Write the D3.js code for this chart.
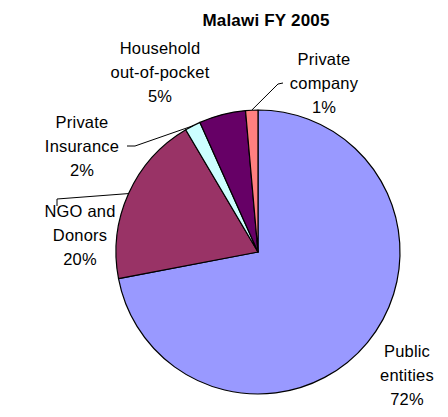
<!DOCTYPE html>
<html>
<head>
<meta charset="utf-8">
<script src="https://cdn.jsdelivr.net/npm/d3@7"></script>
<style>
  html, body { margin: 0; padding: 0; background: #fff; }
  svg { display: block; }
</style>
</head>
<body>
<svg id="chart" width="448" height="417"></svg>
<script>
const title = "Malawi FY 2005";
const categories = ["Public entities", "NGO and Donors", "Private Insurance", "Household out-of-pocket", "Private company"];
const values = [72.0, 19.5, 1.8, 5.3, 1.4];
const percentLabels = ["72%", "20%", "2%", "5%", "1%"];
const labelLines = [["Public", "entities"], ["NGO and", "Donors"], ["Private", "Insurance"], ["Household", "out-of-pocket"], ["Private", "company"]];
const colors = ["#9999FF", "#993366", "#CCFFFF", "#660066", "#FF8080"];

const layout = {
  cx: 258, cy: 252, r: 142,
  labels: [
    { x: 407, y: 357 },
    { x: 80, y: 217 },
    { x: 82, y: 128 },
    { x: 160, y: 54 },
    { x: 324, y: 65 }
  ],
  leaders: [
    null,
    [[57, 206], [57, 199]],
    [[127, 146], [135, 146]],
    null,
    [[283, 83], [278, 84]]
  ]
};

const svg = d3.select("#chart");
const font = "'Liberation Sans', Arial, sans-serif";

svg.append("text")
  .attr("x", 266).attr("y", 26)
  .attr("text-anchor", "middle")
  .attr("font-family", font)
  .attr("font-size", 17)
  .attr("font-weight", "bold")
  .attr("letter-spacing", 0.2)
  .text(title);

const pie = d3.pie().sort(null).value(d => d)(values);
const arc = d3.arc().innerRadius(0).outerRadius(layout.r);
const g = svg.append("g").attr("transform", `translate(${layout.cx},${layout.cy})`);

g.selectAll("path.slice").data(pie).enter().append("path")
  .attr("class", "slice")
  .attr("d", arc)
  .attr("fill", (d, i) => colors[i])
  .attr("stroke", "#000")
  .attr("stroke-width", 1.2)
  .attr("stroke-linejoin", "round");

pie.forEach((d, i) => {
  const pts = layout.leaders[i];
  if (!pts) return;
  const mid = (d.startAngle + d.endAngle) / 2;
  const ex = layout.cx + layout.r * Math.sin(mid);
  const ey = layout.cy - layout.r * Math.cos(mid);
  svg.append("path")
    .attr("d", d3.line()(pts.concat([[ex, ey]])))
    .attr("fill", "none")
    .attr("stroke", "#000")
    .attr("stroke-width", 1);
});

labelLines.forEach((lines, i) => {
  const p = layout.labels[i];
  const t = svg.append("text")
    .attr("text-anchor", "middle")
    .attr("font-family", font)
    .attr("font-size", 16.5)
    .attr("letter-spacing", 0.2)
    .attr("fill", "#000");
  lines.concat([percentLabels[i]]).forEach((s, k) => {
    t.append("tspan").attr("x", p.x).attr("y", p.y + k * 24).text(s);
  });
});
</script>
</body>
</html>
